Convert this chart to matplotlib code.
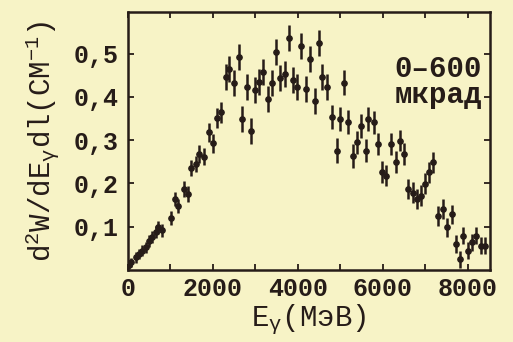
import numpy as np
import matplotlib
matplotlib.use("Agg")
import matplotlib.pyplot as plt
from matplotlib.ticker import MultipleLocator, FuncFormatter

# photon energy (MeV) and spectrum values
energy = [24, 71, 181, 259, 336, 416, 494, 572, 652, 718, 807,
          1005, 1106, 1184, 1311, 1405, 1475, 1593, 1682, 1788, 1899,
          2005, 2094, 2188, 2299, 2384, 2494, 2612, 2689, 2800, 2906, 2984,
          3082, 3181, 3299, 3395, 3489, 3586, 3687, 3788, 3887, 3984,
          4082, 4181, 4289, 4400, 4487, 4572, 4689, 4793, 4911, 4981,
          5082, 5184, 5294, 5395, 5475, 5593, 5654, 5788, 5889, 5984,
          6078, 6181, 6299, 6400, 6494, 6595, 6706, 6807, 6901, 6988,
          7082, 7184, 7294, 7412, 7506, 7616, 7711, 7805, 7882, 8007,
          8087, 8195, 8299, 8400]
spectrum = [0.012, 0.018, 0.029, 0.037, 0.045, 0.052, 0.067, 0.076, 0.087, 0.099, 0.092,
            0.120, 0.164, 0.148, 0.187, 0.176, 0.236, 0.245, 0.268, 0.262, 0.318,
            0.293, 0.351, 0.364, 0.445, 0.464, 0.433, 0.493, 0.349, 0.422, 0.322, 0.416,
            0.435, 0.457, 0.394, 0.433, 0.503, 0.444, 0.453, 0.535, 0.439, 0.422,
            0.518, 0.418, 0.487, 0.391, 0.524, 0.445, 0.422, 0.353, 0.276, 0.349,
            0.433, 0.341, 0.264, 0.295, 0.333, 0.276, 0.349, 0.341, 0.291, 0.226,
            0.218, 0.291, 0.249, 0.299, 0.268, 0.187, 0.179, 0.164, 0.172, 0.199,
            0.226, 0.249, 0.125, 0.141, 0.099, 0.129, 0.060, 0.025, 0.079, 0.045,
            0.064, 0.079, 0.056, 0.056]
errors = [0.010, 0.010, 0.012, 0.012, 0.012, 0.013, 0.013, 0.014, 0.014, 0.015, 0.015,
          0.016, 0.017, 0.017, 0.018, 0.018, 0.019, 0.019, 0.020, 0.020, 0.022,
          0.022, 0.024, 0.025, 0.030, 0.030, 0.030, 0.030, 0.030, 0.030, 0.030, 0.030,
          0.030, 0.030, 0.030, 0.030, 0.030, 0.030, 0.030, 0.030, 0.030, 0.030,
          0.030, 0.030, 0.030, 0.030, 0.030, 0.030, 0.030, 0.028, 0.028, 0.028,
          0.028, 0.028, 0.028, 0.027, 0.027, 0.027, 0.027, 0.026, 0.026, 0.025,
          0.025, 0.025, 0.025, 0.025, 0.025, 0.024, 0.024, 0.024, 0.024, 0.024,
          0.024, 0.024, 0.023, 0.023, 0.022, 0.022, 0.021, 0.020, 0.020, 0.020,
          0.020, 0.020, 0.020, 0.020]

x_labels = [0, 2000, 4000, 6000, 8000]
y_labels = [0.1, 0.2, 0.3, 0.4, 0.5]

paper = "#f7f3c6"
ink = "#261c18"

plt.rcParams["font.family"] = ["Liberation Mono", "DejaVu Sans"]
plt.rcParams["font.weight"] = "bold"
plt.rcParams["mathtext.default"] = "regular"

fig = plt.figure(figsize=(5.13, 3.42), dpi=100, facecolor=paper)
ax = fig.add_axes([0.2495, 0.2105, 0.7055, 0.7545], facecolor=paper)

ax.errorbar(energy, spectrum, yerr=errors, fmt="o", ms=3.8, color=ink,
            ecolor=ink, elinewidth=1.8, capsize=0)

ax.set_xlim(0, 8520)
ax.set_ylim(0, 0.596)

ax.set_xticks(x_labels)
ax.xaxis.set_minor_locator(MultipleLocator(1000))
ax.set_yticks(y_labels)
ax.yaxis.set_major_formatter(FuncFormatter(lambda v, p: f"{v:.1f}".replace(".", ",")))
ax.tick_params(which="both", direction="in", top=True, right=True, colors=ink,
               width=1.3, labelsize=18, length=4)
ax.tick_params(axis="y", pad=7)
ax.tick_params(axis="x", pad=5)
for spine in ax.spines.values():
    spine.set_linewidth(1.8)
    spine.set_color(ink)

ax.set_xlabel(r"E$_\gamma$(МэВ)", fontsize=21, color=ink, labelpad=1)
ax.set_ylabel(r"d$^2$W/dE$_\gamma$dl(СМ$^{-1}$)", fontsize=21, color=ink, labelpad=9)

ax.text(0.857, 0.73, "0–600\nмкрад", transform=ax.transAxes, ha="center", va="center",
        fontsize=21, color=ink, linespacing=0.9)

fig.savefig("out.png", dpi=100, facecolor=paper)
